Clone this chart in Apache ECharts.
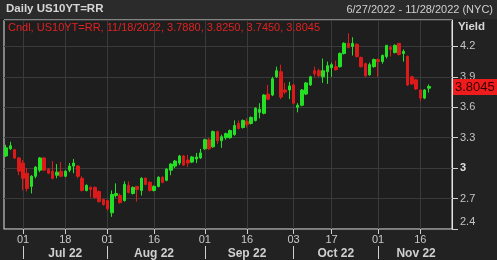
<!DOCTYPE html>
<html lang="en">
<head>
  <meta charset="utf-8">
  <title>Daily US10YT=RR</title>
  <script src="https://cdn.jsdelivr.net/npm/echarts@6/dist/echarts.min.js"></script>
  <style>
    html, body { margin: 0; padding: 0; background: #222; }
    #chart { width: 497px; height: 260px; }
  </style>
</head>
<body>
<div id="chart"></div>
<script>
  // trading days shown on the axis (6/27/2022 - 11/28/2022, no holidays)
  const dates = [
    '2022-06-27', '2022-06-28', '2022-06-29', '2022-06-30',
    '2022-07-01', '2022-07-05', '2022-07-06', '2022-07-07', '2022-07-08', '2022-07-11', '2022-07-12',
    '2022-07-13', '2022-07-14', '2022-07-15', '2022-07-18', '2022-07-19', '2022-07-20', '2022-07-21',
    '2022-07-22', '2022-07-25', '2022-07-26', '2022-07-27', '2022-07-28', '2022-07-29',
    '2022-08-01', '2022-08-02', '2022-08-03', '2022-08-04', '2022-08-05', '2022-08-08', '2022-08-09',
    '2022-08-10', '2022-08-11', '2022-08-12', '2022-08-15', '2022-08-16', '2022-08-17', '2022-08-18',
    '2022-08-19', '2022-08-22', '2022-08-23', '2022-08-24', '2022-08-25', '2022-08-26', '2022-08-29',
    '2022-08-30', '2022-08-31',
    '2022-09-01', '2022-09-02', '2022-09-06', '2022-09-07', '2022-09-08', '2022-09-09', '2022-09-12',
    '2022-09-13', '2022-09-14', '2022-09-15', '2022-09-16', '2022-09-19', '2022-09-20', '2022-09-21',
    '2022-09-22', '2022-09-23', '2022-09-26', '2022-09-27', '2022-09-28', '2022-09-29', '2022-09-30',
    '2022-10-03', '2022-10-04', '2022-10-05', '2022-10-06', '2022-10-07', '2022-10-11', '2022-10-12',
    '2022-10-13', '2022-10-14', '2022-10-17', '2022-10-18', '2022-10-19', '2022-10-20', '2022-10-21',
    '2022-10-24', '2022-10-25', '2022-10-26', '2022-10-27', '2022-10-28', '2022-10-31',
    '2022-11-01', '2022-11-02', '2022-11-03', '2022-11-04', '2022-11-07', '2022-11-08', '2022-11-09',
    '2022-11-10', '2022-11-14', '2022-11-15', '2022-11-16', '2022-11-17', '2022-11-18', '2022-11-21',
    '2022-11-22', '2022-11-23', '2022-11-25', '2022-11-28'
  ];

  // daily candles, one value per day up to 11/18
  const opens = [
    3.12, 3.19, 3.18, 3.10, 3.05, 2.95, 2.82, 2.92, 2.98, 3.10, 2.99, 2.97, 2.93, 2.97, 2.92, 2.98, 3.02, 3.02,
    2.90, 2.78, 2.81, 2.81, 2.77, 2.69, 2.68, 2.56, 2.73, 2.73, 2.68, 2.83, 2.75, 2.82, 2.78, 2.90, 2.86, 2.78,
    2.82, 2.91, 2.88, 2.98, 3.02, 3.05, 3.12, 3.08, 3.06, 3.09, 3.10, 3.19, 3.28, 3.21, 3.36, 3.27, 3.30, 3.30,
    3.33, 3.44, 3.40, 3.46, 3.44, 3.47, 3.55, 3.54, 3.73, 3.72, 3.90, 3.95, 3.77, 3.77, 3.82, 3.60, 3.62, 3.73,
    3.82, 3.96, 3.96, 3.90, 3.95, 3.99, 4.00, 4.00, 4.13, 4.23, 4.20, 4.22, 4.09, 4.03, 3.92, 4.00, 4.07, 4.05,
    4.10, 4.19, 4.14, 4.23, 4.13, 4.10, 3.90, 3.87, 3.77, 3.69, 3.788
  ];
  const closes = [
    3.20, 3.22, 3.10, 2.97, 2.90, 2.80, 2.92, 3.01, 3.10, 2.98, 2.95, 2.90, 2.96, 2.92, 2.97, 3.02, 3.05, 2.92,
    2.78, 2.83, 2.79, 2.71, 2.67, 2.64, 2.60, 2.74, 2.75, 2.66, 2.84, 2.76, 2.81, 2.79, 2.90, 2.84, 2.78, 2.82,
    2.91, 2.86, 2.99, 3.04, 3.07, 3.12, 3.03, 3.05, 3.11, 3.11, 3.15, 3.28, 3.19, 3.36, 3.27, 3.31, 3.34, 3.37,
    3.42, 3.39, 3.47, 3.43, 3.50, 3.59, 3.58, 3.72, 3.68, 3.88, 3.96, 3.70, 3.75, 3.81, 3.64, 3.62, 3.77, 3.84,
    3.90, 3.93, 3.91, 3.96, 4.01, 4.02, 3.97, 4.13, 4.23, 4.19, 4.23, 4.10, 4.00, 3.91, 4.02, 4.07, 4.05, 4.11,
    4.21, 4.17, 4.21, 4.12, 4.15, 3.82, 3.83, 3.78, 3.69, 3.77, 3.8045
  ];
  const lows = [
    3.11, 3.18, 3.09, 2.93, 2.78, 2.77, 2.75, 2.90, 2.96, 2.97, 2.94, 2.89, 2.90, 2.91, 2.91, 2.96, 2.95, 2.90,
    2.77, 2.77, 2.71, 2.70, 2.66, 2.63, 2.58, 2.52, 2.71, 2.65, 2.67, 2.75, 2.74, 2.67, 2.73, 2.83, 2.77, 2.77,
    2.81, 2.85, 2.87, 2.93, 3.00, 3.03, 3.02, 3.01, 3.05, 3.05, 3.09, 3.18, 3.18, 3.20, 3.24, 3.20, 3.28, 3.29,
    3.32, 3.38, 3.39, 3.40, 3.43, 3.46, 3.49, 3.53, 3.67, 3.71, 3.89, 3.68, 3.73, 3.68, 3.63, 3.55, 3.61, 3.72,
    3.81, 3.90, 3.90, 3.84, 3.83, 3.90, 3.96, 3.99, 4.12, 4.18, 4.11, 4.09, 3.99, 3.90, 3.91, 3.99, 3.90, 4.03,
    4.08, 4.10, 4.13, 4.11, 4.05, 3.81, 3.82, 3.77, 3.66, 3.68, 3.745
  ];
  const highs = [
    3.23, 3.26, 3.19, 3.11, 3.08, 3.00, 2.93, 3.02, 3.11, 3.11, 3.00, 3.07, 3.04, 3.06, 2.98, 3.05, 3.09, 3.03,
    2.92, 2.84, 2.82, 2.82, 2.78, 2.70, 2.69, 2.78, 2.85, 2.75, 2.87, 2.87, 2.82, 2.82, 2.91, 2.91, 2.87, 2.83,
    2.92, 2.92, 3.00, 3.05, 3.08, 3.13, 3.13, 3.13, 3.12, 3.15, 3.19, 3.29, 3.30, 3.37, 3.37, 3.33, 3.35, 3.38,
    3.47, 3.47, 3.48, 3.49, 3.51, 3.60, 3.64, 3.73, 3.82, 3.90, 4.00, 4.02, 3.84, 3.85, 3.83, 3.64, 3.78, 3.85,
    3.91, 4.00, 3.98, 4.08, 4.05, 4.04, 4.06, 4.14, 4.24, 4.33, 4.29, 4.23, 4.10, 4.04, 4.04, 4.08, 4.08, 4.12,
    4.21, 4.21, 4.22, 4.23, 4.17, 4.11, 3.91, 3.88, 3.78, 3.78, 3.825
  ];

  // labelled days on the lower axis and the month names below them
  const tickDates = ['2022-07-01', '2022-07-18', '2022-08-01', '2022-08-16', '2022-09-01',
    '2022-09-16', '2022-10-03', '2022-10-17', '2022-11-01', '2022-11-16'];
  const monthNames = ['Jul 22', 'Aug 22', 'Sep 22', 'Oct 22', 'Nov 22'];
  const monthKeys = ['2022-07', '2022-08', '2022-09', '2022-10', '2022-11'];

  const candles = opens.map((o, i) => [o, closes[i], lows[i], highs[i]]);
  const last = candles.length - 1;

  const tickIdx = new Set(tickDates.map(d => dates.indexOf(d)));
  const monthStartIdx = new Set();
  const monthMid = {};
  monthKeys.forEach((m, k) => {
    const idx = dates.map((d, i) => d.startsWith(m) ? i : -1).filter(i => i >= 0);
    monthStartIdx.add(idx[0]);
    monthMid[Math.ceil((idx[0] + idx[idx.length - 1]) / 2)] = monthNames[k];
  });

  const legendText = 'Cndl, US10YT=RR, ' +
    dates[last].slice(5, 7) + '/' + dates[last].slice(8) + '/' + dates[last].slice(0, 4) + ', ' +
    [opens[last], highs[last], lows[last], closes[last]].map(v => v.toFixed(4)).join(', ');

  const UP = '#24e024';
  const DOWN = '#dd1a1a';
  const FONT = 'Liberation Sans';

  const chart = echarts.init(document.getElementById('chart'));
  chart.setOption({
    animation: false,
    backgroundColor: '#222222',
    textStyle: { fontFamily: FONT },
    graphic: [
      { type: 'rect', left: 0, top: 0, shape: { width: 497, height: 19 }, style: { fill: '#2b2b2b' }, silent: true },
      { type: 'text', left: 6, top: 3, style: { text: 'Daily US10YT=RR', fill: '#d6d6d6', font: 'bold 11.5px ' + FONT } },
      { type: 'text', right: 4, top: 4, style: { text: '6/27/2022 - 11/28/2022 (NYC)', fill: '#d0d0d0', font: '11px ' + FONT } },
      { type: 'text', left: 8, top: 22, z: 10, style: { text: legendText, fill: '#e02222', font: '11px ' + FONT } },
      { type: 'text', left: 458, top: 21, style: { text: 'Yield', fill: '#d6d6d6', font: 'bold 11.5px ' + FONT } }
    ],
    grid: {
      left: 4, right: 45, top: 20, bottom: 30,
      show: true, backgroundColor: '#1e1e1e', borderColor: '#e6e6e6', borderWidth: 1
    },
    xAxis: [{
      type: 'category',
      data: dates,
      boundaryGap: true,
      axisLine: { show: true, lineStyle: { color: '#777' } },
      axisTick: { show: true, alignWithLabel: true, length: 5, lineStyle: { color: '#cfcfcf' },
        interval: i => tickIdx.has(i) },
      axisLabel: { interval: i => tickIdx.has(i), formatter: v => v.slice(8), color: '#c8c8c8',
        fontSize: 11, margin: 5 },
      splitLine: { show: true, alignWithLabel: true, interval: i => tickIdx.has(i),
        lineStyle: { color: '#3a3a3a', width: 1 } }
    }, {
      type: 'category',
      data: dates,
      position: 'bottom',
      offset: 17,
      boundaryGap: true,
      axisLine: { show: false },
      axisTick: { show: true, alignWithLabel: true, length: 13, inside: false,
        lineStyle: { color: '#cfcfcf' }, interval: i => monthStartIdx.has(i) },
      axisLabel: { interval: i => monthMid[i] !== undefined, formatter: (v, i) => monthMid[i] || '',
        color: '#d0d0d0', fontSize: 12, fontWeight: 'bold', margin: 2 },
      splitLine: { show: false }
    }],
    yAxis: {
      type: 'value',
      position: 'right',
      min: 2.4,
      max: 4.46,
      interval: 0.3,
      axisLine: { show: true, lineStyle: { color: '#e6e6e6' } },
      axisTick: { show: true, length: 6, lineStyle: { color: '#d0d0d0' } },
      axisLabel: {
        showMaxLabel: false,
        margin: 8,
        color: '#c4c4c4',
        fontSize: 11,
        formatter: v => {
          const s = String(+v.toFixed(2));
          if (Math.abs(v - 2.4) < 1e-6) return '{low|' + s + '}';
          if (Number.isInteger(+s)) return '{int|' + s + '}';
          return s;
        },
        rich: {
          low: { padding: [0, 0, 14, 0], color: '#c4c4c4', fontSize: 11 },
          int: { color: '#e0e0e0', fontSize: 11, fontWeight: 'bold' }
        }
      },
      splitLine: { show: true, lineStyle: { color: '#3a3a3a', width: 1 } }
    },
    series: [{
      type: 'candlestick',
      data: candles,
      barWidth: 3,
      itemStyle: { color: UP, color0: DOWN, borderColor: UP, borderColor0: DOWN, borderWidth: 1 },
      markLine: {
        silent: true,
        symbol: ['none', 'none'],
        lineStyle: { color: 'rgba(0,0,0,0)', width: 1 },
        data: [{ yAxis: closes[last] }],
        label: {
          show: true,
          position: 'end',
          distance: 1,
          formatter: () => closes[last].toFixed(4),
          backgroundColor: '#ee1c1c',
          color: '#3a0000',
          fontSize: 13,
          padding: [2, 3, 1, 2]
        }
      }
    }]
  });
</script>
</body>
</html>
